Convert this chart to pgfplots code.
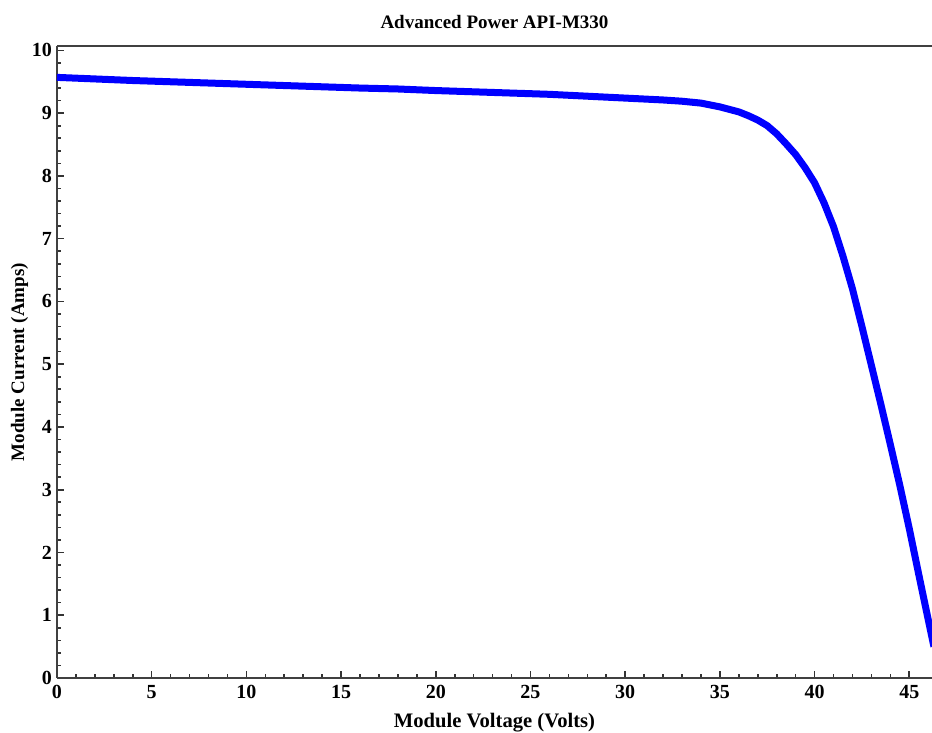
\documentclass[border=0pt]{standalone}
\usepackage{pgfplots}
\pgfplotsset{compat=1.18}
\usepackage{fontspec}
\setmainfont{Liberation Serif}
\pgfplotstableread{
v i
0 9.57
2 9.545
4 9.52
6 9.50
8 9.48
10 9.46
12 9.44
14 9.42
16 9.40
18 9.385
20 9.36
22 9.34
24 9.32
26 9.30
28 9.27
30 9.24
32 9.21
33 9.19
34 9.16
35 9.10
36 9.02
36.5 8.96
37 8.89
37.5 8.80
38 8.67
38.5 8.51
39 8.34
39.5 8.13
40 7.89
40.5 7.57
41 7.19
41.5 6.72
42 6.20
42.5 5.60
43 4.98
43.5 4.36
44 3.72
44.5 3.07
45 2.38
45.5 1.65
46 0.93
46.3 0.50
}\blue
\pgfplotstableread{
v i
0 9.57
4 9.525
8 9.485
12 9.445
16 9.405
20 9.365
24 9.325
26 9.305
28 9.28
30 9.25
32 9.22
34 9.17
36 9.03
38 8.69
39 8.35
40 7.90
41 7.22
42 6.22
43 4.99
44 3.73
45 2.39
46 0.94
46.3 0.50
}\red
\begin{document}
\begin{tikzpicture}
\begin{axis}[
  scale only axis,
  width=437.5pt, height=316pt,
  xmin=0, xmax=46.2, ymin=0, ymax=10.07,
  axis x line*=bottom, axis y line*=left,
  axis line style={black!75, line width=0.9pt, -},
  xtick={0,5,...,45}, ytick={0,1,...,10},
  minor x tick num=4, minor y tick num=4,
  tick align=inside,
  major tick length=3.5pt, minor tick length=2pt,
  tick style={black!80, line width=0.8pt},
  tick label style={font=\bfseries\fontsize{10}{12}\selectfont},
  /pgf/number format/assume math mode=true,
  yticklabel style={xshift=1pt},
  title={\bfseries Advanced Power API-M330},
  title style={font=\fontsize{9.5}{11}\selectfont, yshift=-1pt},
  xlabel={\bfseries Module Voltage (Volts)},
  ylabel={\bfseries Module Current (Amps)},
  xlabel style={font=\fontsize{10.3}{12}\selectfont, yshift=-0.5pt},
  ylabel style={font=\fontsize{9.5}{11}\selectfont, yshift=-5pt},
  clip=true,
]
\addplot[red, line width=1.2pt] table[x=v,y=i] {\red};
\addplot[blue, line width=3.5pt] table[x=v,y=i] {\blue};
\draw[black!75, line width=0.9pt] (rel axis cs:0,1) -- (rel axis cs:1,1);
\end{axis}
\pgfresetboundingbox
\useasboundingbox ([shift={(-28.5pt,-27.5pt)}]current axis.south west) rectangle ([shift={(0pt,23pt)}]current axis.north east);
\end{tikzpicture}
\end{document}
